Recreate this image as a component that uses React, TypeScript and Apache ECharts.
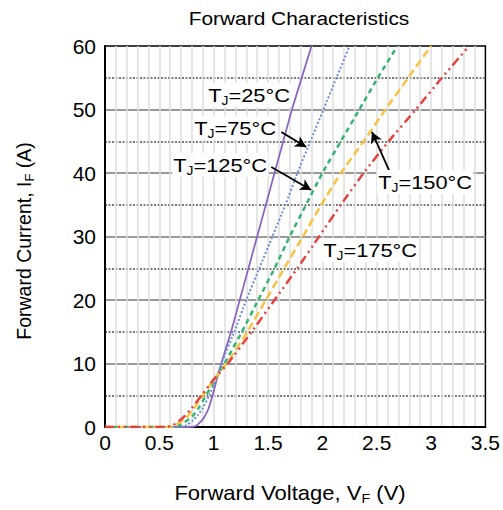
import React, { useEffect, useRef } from "react";
import * as echarts from "echarts";

// Forward voltage (V) / forward current (A) pairs
const tj25: number[][] = [[0, 0], [0.78, 0], [0.84, 0.2], [0.9, 1.2], [0.95, 2.8], [0.99, 5], [1.03, 7.6], [1.07, 10], [1.16, 15], [1.24, 20], [1.32, 25], [1.4, 30], [1.48, 35], [1.56, 40], [1.64, 45], [1.72, 50], [1.81, 55], [1.9, 60]];
const tj75: number[][] = [[0, 0], [0.68, 0], [0.75, 0.3], [0.8, 0.9], [0.85, 1.8], [0.9, 3], [0.96, 5], [1.02, 7.5], [1.07, 10], [1.19, 15], [1.3, 20], [1.42, 25], [1.54, 30], [1.66, 35], [1.77, 40], [1.89, 45], [2.01, 50], [2.13, 55], [2.25, 60]];
const tj125: number[][] = [[0, 0], [0.62, 0], [0.7, 0.4], [0.8, 1.6], [0.87, 3.2], [0.93, 5], [1.0, 7], [1.1, 10], [1.26, 15], [1.41, 20], [1.56, 25], [1.7, 30], [1.85, 35], [2.0, 40], [2.17, 45], [2.34, 50], [2.51, 55], [2.69, 60]];
const tj150: number[][] = [[0, 0], [0.58, 0], [0.65, 0.3], [0.75, 1.5], [0.83, 3.2], [0.9, 5], [1.0, 7.4], [1.12, 10], [1.31, 15], [1.48, 20], [1.65, 25], [1.82, 30], [1.99, 35], [2.17, 40], [2.38, 45], [2.58, 50], [2.79, 55], [3.0, 60]];
const tj175: number[][] = [[0, 0], [0.55, 0], [0.63, 0.3], [0.72, 1.5], [0.8, 3], [0.89, 5], [1.0, 7.5], [1.13, 10], [1.35, 15], [1.56, 20], [1.77, 25], [1.97, 30], [2.17, 35], [2.38, 40], [2.61, 45], [2.86, 50], [3.1, 55], [3.35, 60]];

// Arrow annotations in data coordinates [from, to]
const arrow75 = [[1.622, 46.46], [1.851, 44.09]];
const arrow125 = [[1.53, 40.94], [1.897, 37.32]];
const arrow150 = [[2.62, 40.16], [2.456, 46.46]];

const FONT = "'Liberation Sans', Arial, sans-serif";

export default function App() {
  const ref = useRef<HTMLDivElement>(null);
  useEffect(() => {
    if (!ref.current) return;
    const chart = echarts.init(ref.current, undefined, { renderer: "svg" });

    const mkSeries = (name: string, data: number[][], color: string, type: any, width: number, extra: any = {}) => ({
      name,
      type: "line",
      data,
      showSymbol: false,
      smooth: 0.15,
      clip: true,
      lineStyle: { color, type, width, cap: "butt" },
      z: 5,
      ...extra,
    });

    const arrowLine = (a: number[][]) => [{ coord: a[0] }, { coord: a[1] }];

    const richSub = (size: number) => ({
      t: { fontSize: size, fontFamily: FONT, fill: "#000", lineHeight: 24, verticalAlign: "middle" },
      s: { fontSize: Math.round(size * 0.65), fontFamily: FONT, fill: "#000", lineHeight: 12, verticalAlign: "bottom" },
    });

    const label = (text: string, x: number, y: number) => ({
      type: "text",
      x,
      y,
      scaleX: 1.15,
      z: 20,
      style: {
        text: `{t|T}{s|J}{t|${text}}`,
        align: "left",
        verticalAlign: "middle",
        backgroundColor: "#fff",
        padding: [0, 1, 0, 1],
        rich: richSub(19),
      },
    });

    chart.setOption({
      animation: false,
      backgroundColor: "#fff",
      grid: { left: 105, top: 46, width: 382, height: 381, show: true, borderColor: "#000", borderWidth: 1.5, backgroundColor: "#fff" },
      xAxis: {
        type: "value",
        min: 0,
        max: 3.5,
        interval: 0.5,
        axisLine: { show: true, lineStyle: { color: "#000", width: 2 } },
        axisTick: { show: false },
        axisLabel: { fontSize: 21, fontFamily: FONT, color: "#000", margin: 5, formatter: (v: number) => String(v) },
        splitLine: { show: true, showMinLine: false, showMaxLine: false, lineStyle: { color: "#dedede", width: 1.5 } },
        minorTick: { show: false, splitNumber: 5 },
        minorSplitLine: { show: true, lineStyle: { color: "#dedede", width: 1.5 } },
      },
      yAxis: {
        type: "value",
        min: 0,
        max: 60,
        interval: 10,
        axisLine: { show: true, lineStyle: { color: "#000", width: 2 } },
        axisTick: { show: false },
        axisLabel: { fontSize: 21, fontFamily: FONT, color: "#000", margin: 9 },
        splitLine: { show: true, showMinLine: false, showMaxLine: false, lineStyle: { color: "#9a9a9a", width: 2 } },
        minorTick: { show: false, splitNumber: 2 },
        minorSplitLine: { show: true, lineStyle: { color: "#7a7a7a", width: 1.8, type: [2, 1.5] } },
      },
      series: [
        mkSeries("TJ=25°C", tj25, "#8a66c2", "solid", 1.8),
        mkSeries("TJ=75°C", tj75, "#6e8fd4", [2, 2], 2),
        mkSeries("TJ=125°C", tj125, "#35b572", [5, 4], 2.5),
        mkSeries("TJ=150°C", tj150, "#f6c343", [8, 4], 2.5),
        mkSeries("TJ=175°C", tj175, "#e4433f", [9, 4, 2, 4, 2, 4], 2.5, {
          markLine: {
            silent: true,
            symbol: ["none", "arrow"],
            symbolSize: [9, 11],
            label: { show: false },
            lineStyle: { color: "#000", width: 1.8, type: "solid" },
            data: [arrowLine(arrow75), arrowLine(arrow125), arrowLine(arrow150)],
            z: 15,
          },
        }),
      ],
      graphic: [
        {
          type: "text",
          x: 299,
          y: 18,
          scaleX: 1.1,
          style: { text: "Forward Characteristics", fontSize: 19, fontFamily: FONT, fill: "#000", align: "center", verticalAlign: "middle" },
        },
        label("=25°C", 207, 95),
        label("=75°C", 193, 128),
        label("=125°C", 172, 165),
        label("=150°C", 377, 182),
        label("=175°C", 322, 250),
        {
          type: "text",
          x: 290,
          y: 493,
          scaleX: 1.1,
          style: {
            text: "{t|Forward Voltage, V}{s|F}{t| (V)}",
            align: "center",
            verticalAlign: "middle",
            rich: richSub(20),
          },
        },
        {
          type: "text",
          x: 24,
          y: 241,
          rotation: Math.PI / 2,
          style: {
            text: "{t|Forward Current, I}{s|F}{t| (A)}",
            align: "center",
            verticalAlign: "middle",
            rich: richSub(19.5),
          },
        },
      ],
    });
    return () => chart.dispose();
  }, []);
  return <div ref={ref} style={{ width: 503, height: 510, position: "absolute", left: 0, top: 0 }} />;
}
